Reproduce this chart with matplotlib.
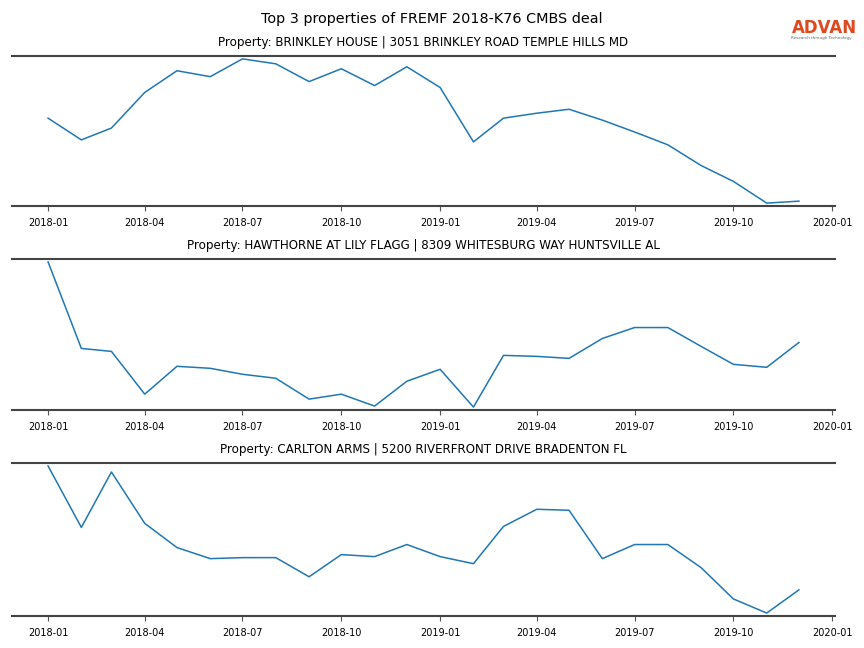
import matplotlib.pyplot as plt
import numpy as np
import pandas as pd

months = pd.date_range("2018-01-01", "2019-12-01", freq="MS")

titles = [
    "Property: BRINKLEY HOUSE | 3051 BRINKLEY ROAD TEMPLE HILLS MD",
    "Property: HAWTHORNE AT LILY FLAGG | 8309 WHITESBURG WAY HUNTSVILLE AL",
    "Property: CARLTON ARMS | 5200 RIVERFRONT DRIVE BRADENTON FL",
]

# visits per month (arbitrary units)
brinkley = [87, 65, 77, 113, 135, 129, 147, 142, 124, 137, 120, 139,
            118, 63, 87, 92, 96, 85, 73, 60, 39, 23, 1, 3]
hawthorne = [147, 60, 57, 14, 42, 40, 34, 30, 9, 14, 2, 27,
             39, 1, 53, 52, 50, 70, 81, 81, 62, 44, 41, 66]
carlton = [149, 88, 143, 92, 68, 57, 58, 58, 39, 61, 59, 71,
           59, 52, 89, 106, 105, 57, 71, 71, 48, 17, 3, 26]

series = [brinkley, hawthorne, carlton]

fig = plt.figure(figsize=(8.64, 6.48), dpi=100)
boxes = [(0.6821, 0.9136), (0.3673, 0.6003), (0.0494, 0.2855)]

for (b, t), vals, title in zip(boxes, series, titles):
    ax = fig.add_axes([0.0139, b, 0.9525, t - b])
    ax.plot(months, vals, color="#1f77b4", linewidth=1.1)
    ax.margins(x=0.048, y=0.02)
    ax.set_title(title, fontsize=8.6, pad=7)
    for s in ["left", "right"]:
        ax.spines[s].set_visible(False)
    for s in ["top", "bottom"]:
        ax.spines[s].set_color("#444444")
        ax.spines[s].set_linewidth(1.5)
    ax.set_yticks([])
    ax.set_xticks(pd.date_range("2018-01-01", "2020-01-01", freq="3MS"))
    ax.xaxis.set_major_formatter(plt.matplotlib.dates.DateFormatter("%Y-%m"))
    ax.tick_params(axis="x", labelsize=7, color="#555555", length=3.5, pad=5)

fig.suptitle("Top 3 properties of FREMF 2018-K76 CMBS deal", fontsize=10.4, y=0.982)
fig.text(0.916, 0.957, "ADVAN", color="#e0481e", fontsize=12, fontweight="semibold", ha="left", va="center")
fig.text(0.916, 0.941, "Research through Technology", color="#666666", fontsize=3, ha="left", va="center")

fig.savefig("out.png", dpi=100)
